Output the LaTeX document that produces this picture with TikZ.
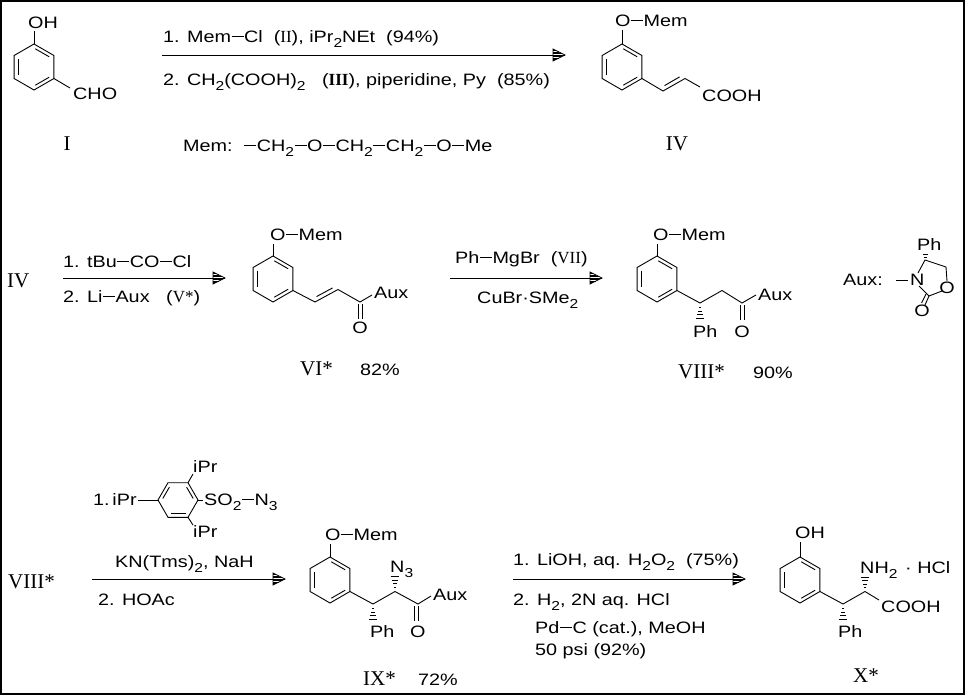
\documentclass[tikz,border=0pt]{standalone}
\usepackage{fontspec}
\usetikzlibrary{calc}
\newfontfamily\cf[FakeStretch=1.2]{Liberation Sans}
\newfontfamily\rf{Liberation Serif}
\newcommand\lo[1]{\raisebox{-0.35em}{\fontsize{13}{13}\selectfont #1}}
\newcommand\dd{\kern0.6pt\rule[0.33em]{0.72em}{0.8pt}\kern0.6pt}
\newcommand\rn[1]{{\rf\fontsize{17}{18}\selectfont #1}}
\newcommand\rnb[1]{{\rf\bfseries\fontsize{17}{18}\selectfont #1}}
\tikzset{
  bond/.style={line width=0.9pt},
  arrowline/.style={line width=1pt},
  t/.style={font=\cf\fontsize{16.5}{18}\selectfont, inner sep=0pt, anchor=base west},
  tc/.style={font=\cf\fontsize{16.5}{18}\selectfont, inner sep=0pt, anchor=base},
  rl/.style={font=\rf\fontsize{21}{24}\selectfont, inner sep=0pt, anchor=base west},
  benz/.pic={
    \coordinate (-c) at (0,0);
    \coordinate (-t) at (0,-23);
    \coordinate (-ur) at (19.9,-11.5);
    \coordinate (-lr) at (19.9,11.5);
    \coordinate (-b) at (0,23);
    \coordinate (-ll) at (-19.9,11.5);
    \coordinate (-ul) at (-19.9,-11.5);
    \draw[bond] (0,-23) -- (19.9,-11.5) -- (19.9,11.5) -- (0,23) -- (-19.9,11.5) -- (-19.9,-11.5) -- cycle;
    \draw[bond] (-15.6,-8.2) -- (-15.6,8.2);
    \draw[bond] (1.3,-18.2) -- (15.2,-10.2);
    \draw[bond] (1.3,18.2) -- (15.2,10.2);
  },
  benzr/.pic={
    \coordinate (-l) at (-20,0);
    \coordinate (-ul) at (-10,-17.3);
    \coordinate (-ur) at (10,-17.3);
    \coordinate (-r) at (20,0);
    \coordinate (-lr) at (10,17.3);
    \coordinate (-ll) at (-10,17.3);
    \draw[bond] (-20,0) -- (-10,-17.3) -- (10,-17.3) -- (20,0) -- (10,17.3) -- (-10,17.3) -- cycle;
    \draw[bond] (-15.2,-1.5) -- (-8.6,-12.9);
    \draw[bond] (8.6,-12.9) -- (15.2,-1.5);
    \draw[bond] (7.5,13.5) -- (-7.5,13.5);
  }
}
\newcommand\rxnarrow[2]{%
  \draw[arrowline] (#1) -- (#2);
  \foreach \vv in {-4.5,-3,-1.5,1.5,3,4.5} {\draw[line width=0.7pt] ($(#2)+(-12,\vv)$) -- ++({12-2*abs(\vv)},0);}
  \draw[line width=0.8pt, line join=miter] ($(#2)+(-12,-6)$) -- (#2) -- ($(#2)+(-12,6)$) -- cycle;}
\newcommand\hashv[3]{%
  \foreach \kk in {0,1,2,3} {%
    \pgfmathsetmacro\yy{#2+(#3-#2)*(\kk+0.5)/4}%
    \pgfmathsetmacro\ww{1+\kk*1.1}%
    \draw[line width=0.8pt] (#1-\ww,\yy) -- (#1+\ww,\yy);}}
\begin{document}
\begin{tikzpicture}[x=1pt,y=-1pt]
\useasboundingbox (0,0) rectangle (966,696);
\draw[line width=1.6pt] (0.8,0.8) rectangle (964.2,694.2);

% ---------------- Row 1 ----------------
\pic (I) at (34,67) {benz};
\node[t] (ohI) at (28,28) {OH};
\draw[bond] (I-t) -- ++(0,-13);
\node[t] (choI) at (73,99) {CHO};
\draw[bond] (I-lr) -- (70,88);
\node[rl, anchor=base] (labI) at (67,150) {I};

\coordinate (a1s) at (162,55);
\coordinate (a1e) at (565,55);
\rxnarrow{a1s}{a1e}
\node[t] (r1a) at (163,42) {1. Mem\dd Cl\ \ (\rn{II}), iPr\lo{2}NEt\ \ (94\%)};
\node[t] (r1b) at (163,85) {2. CH\lo{2}(COOH)\lo{2}\quad(\rnb{III}), piperidine, Py\ \ (85\%)};
\node[t] (mem) at (183,151) {Mem:\ \ \dd CH\lo{2}\dd O\dd CH\lo{2}\dd CH\lo{2}\dd O\dd Me};

\pic (IV) at (622,67) {benz};
\node[t] (omIV) at (615,26) {O\dd Mem};
\draw[bond] (IV-t) -- ++(0,-14);
\coordinate (iv1) at (663,91);
\coordinate (iv2) at (685,78.5);
\coordinate (iv3) at (700,87);
\draw[bond] (IV-lr) -- (iv1) -- (iv2) -- (iv3);
\draw[bond] (664.5,85.6) -- (679.6,76.9);
\node[t] (coohIV) at (702,101) {COOH};
\node[rl, anchor=base] (labIV) at (677,150) {IV};

% ---------------- Row 2 ----------------
\node[rl] (iv) at (7,287) {IV};
\coordinate (a2s) at (63,278);
\coordinate (a2e) at (225,278);
\rxnarrow{a2s}{a2e}
\node[t] (r2a) at (63,267) {1. tBu\dd CO\dd Cl};
\node[t] (r2b) at (63,302) {2. Li\dd Aux\quad(\rn{V*})};

\pic (VI) at (273,279) {benz};
\node[t] (omVI) at (270,240) {O\dd Mem};
\draw[bond] (VI-t) -- ++(0,-12);
\coordinate (vi1) at (315,302);
\coordinate (vi2) at (338,289.5);
\coordinate (vi3) at (360,302);
\coordinate (vi4) at (372,295);
\draw[bond] (VI-lr) -- (vi1) -- (vi2) -- (vi3) -- (vi4);
\draw[bond] (316.5,296.6) -- (332.6,287.9);
\draw[bond] (358,304) -- (358,319);
\draw[bond] (362,304) -- (362,319);
\node[t] (auxVI) at (374,298) {Aux};
\node[tc] (oVI) at (360,333) {O};
\node[rl] (labVI) at (300,375) {VI*};
\node[t] (ydVI) at (360,375) {82\%};

\coordinate (a3s) at (450,278);
\coordinate (a3e) at (602,278);
\rxnarrow{a3s}{a3e}
\node[t] (r3a) at (455,263) {Ph\dd MgBr\ \ (\rn{VII})};
\node[t] (r3b) at (477,303) {CuBr·SMe\lo{2}};

\pic (VIII) at (657,279) {benz};
\node[t] (omVIII) at (653,240) {O\dd Mem};
\draw[bond] (VIII-t) -- ++(0,-12);
\coordinate (v81) at (700,303);
\coordinate (v82) at (722,290.5);
\coordinate (v83) at (742,303);
\coordinate (v84) at (756,295);
\draw[bond] (VIII-lr) -- (v81) -- (v82) -- (v83) -- (v84);
\draw[bond] (740,305) -- (740,320);
\draw[bond] (744,305) -- (744,320);
\hashv{700}{306}{320}
\node[t] (auxVIII) at (758,300) {Aux};
\node[tc] (oVIII) at (742,337) {O};
\node[t] (phVIII) at (693,337) {Ph};
\node[rl] (labVIII) at (678,378) {VIII*};
\node[t] (ydVIII) at (753,378) {90\%};

% Aux definition
\node[t] (auxdef) at (843,285) {Aux:};
\node[t] (nA) at (910,285) {N};
\node[t] (phA) at (917,250) {Ph};
\node[tc] (o1A) at (947,293) {O};
\node[tc] (o2A) at (922,316) {O};
\coordinate (c4) at (925,260);
\coordinate (c5) at (946,267);
\coordinate (c2) at (929,296);
\draw[bond] (896,280) -- (908,280);
\draw[bond] (918,273) -- (c4) -- (c5) -- (947,281);
\draw[bond] (942,291) -- (c2) -- (919,286);
\draw[bond] (c2) -- (925,305);
\draw[bond] (926,294) -- (921.5,303);
\draw[line width=0.7pt] (923.5,257) -- (926.5,257);
\draw[line width=0.7pt] (922.5,254.5) -- (927.5,254.5);

% ---------------- Row 3 ----------------
\node[rl] (viii) at (8,588) {VIII*};
\coordinate (a4s) at (92,579);
\coordinate (a4e) at (285,579);
\rxnarrow{a4s}{a4e}

\pic (R) at (178,500) {benzr};
\node[t] (ipr1) at (93,505) {1.\,iPr};
\draw[bond] (138,500) -- (R-l);
\node[t] (ipr2) at (193,472) {iPr};
\draw[bond] (R-ur) -- (193,474);
\node[t] (ipr3) at (193,537) {iPr};
\draw[bond] (R-lr) -- (193,525);
\draw[bond] (R-r) -- (203,500);
\node[t] (so2) at (204,505) {SO\lo{2}\dd N\lo{3}};
\node[t] (r4a) at (115,567) {KN(Tms)\lo{2}, NaH};
\node[t] (r4b) at (98,605) {2. HOAc};

\pic (IX) at (330,580) {benz};
\node[t] (omIX) at (325,540) {O\dd Mem};
\draw[bond] (IX-t) -- ++(0,-13);
\coordinate (ix1) at (373,604);
\coordinate (ix2) at (395,591.5);
\coordinate (ix3) at (418,604);
\coordinate (ix4) at (431,596);
\draw[bond] (IX-lr) -- (ix1) -- (ix2) -- (ix3) -- (ix4);
\draw[bond] (414.5,606) -- (414.5,621);
\draw[bond] (418.5,606) -- (418.5,621);
\hashv{395}{589}{575}
\hashv{373}{607}{621}
\node[t] (n3IX) at (390,572) {N\lo{3}};
\node[t] (auxIX) at (433,600) {Aux};
\node[t] (phIX) at (370,637) {Ph};
\node[t] (oIX) at (410,637) {O};
\node[rl] (labIX) at (363,685) {IX*};
\node[t] (ydIX) at (418,685) {72\%};

\coordinate (a5s) at (513,579);
\coordinate (a5e) at (745,579);
\rxnarrow{a5s}{a5e}
\node[t] (r5a) at (513,565) {1. LiOH, aq. H\lo{2}O\lo{2}\ \ (75\%)};
\node[t] (r5b) at (513,605) {2. H\lo{2}, 2N aq. HCl};
\node[t] (r5c) at (535,633) {Pd\dd C (cat.), MeOH};
\node[t] (r5d) at (535,655) {50 psi (92\%)};

\pic (X) at (800,580) {benz};
\node[t] (ohX) at (795,538) {OH};
\draw[bond] (X-t) -- ++(0,-15);
\coordinate (x1) at (843,604);
\coordinate (x2) at (865,591.5);
\coordinate (x3) at (879,600);
\draw[bond] (X-lr) -- (x1) -- (x2) -- (x3);
\hashv{865}{589}{576}
\hashv{843}{607}{621}
\node[t] (nh2X) at (860,573) {NH\lo{2}};
\node[t] (hclX) at (905,573) {·\ HCl};
\node[t] (coohX) at (881,612) {COOH};
\node[t] (phX) at (838,637) {Ph};
\node[rl] (labX) at (853,682) {X*};
\end{tikzpicture}
\end{document}
